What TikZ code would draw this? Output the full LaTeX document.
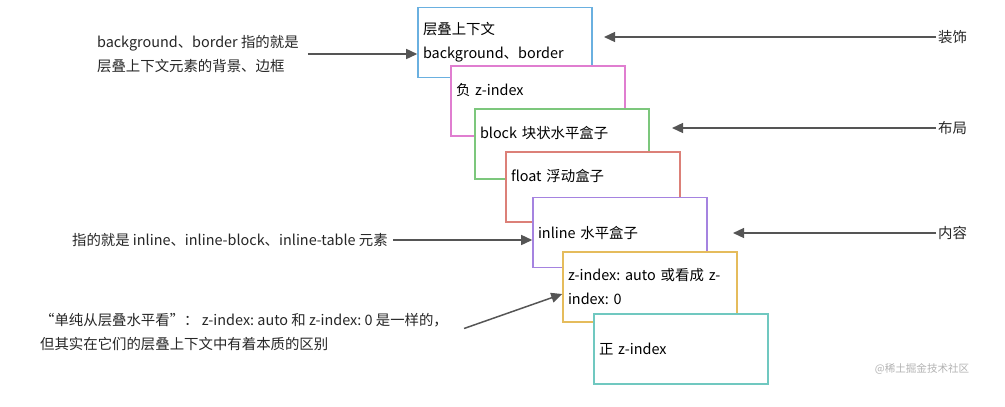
\documentclass[tikz,border=0pt]{standalone}
\usepackage{fontspec}
\setmainfont{Noto Sans CJK SC}
\frenchspacing
\usetikzlibrary{positioning, arrows.meta}
\definecolor{ctxblue}{RGB}{106,176,224}
\definecolor{ctxpink}{RGB}{224,126,208}
\definecolor{ctxgreen}{RGB}{124,199,124}
\definecolor{ctxred}{RGB}{220,128,120}
\definecolor{ctxpurple}{RGB}{165,131,224}
\definecolor{ctxyellow}{RGB}{229,188,92}
\definecolor{ctxteal}{RGB}{112,200,192}
\definecolor{arrowgray}{RGB}{85,85,85}
\tikzset{
  layer/.style   = {draw, fill=white, line width=0.85pt, minimum width=3.48cm, minimum height=1.4cm, text width=3.28cm, inner xsep=0.1cm, align=left, font=\fontsize{8.2}{13.7}\selectfont},
  note/.style    = {align=left, inner sep=1pt, text=black!85, font=\fontsize{8.2}{13.7}\selectfont},
  pointer/.style = {-{Triangle[length=6.3pt, width=5.7pt]}, line width=0.85pt, draw=arrowgray}
}

\begin{document}
\begin{tikzpicture}[x=0.2mm, y=-0.2mm]
  \useasboundingbox (0,0) rectangle (1005,406);
  % stacking levels, bottom to top
  \node[layer, draw=ctxblue]   (bg)     at (505,42.5) {层叠上下文\\background、border};
  \node[layer, draw=ctxpink]   (neg)    at (538,101)  {负 z-index\\~};
  \node[layer, draw=ctxgreen]  (blk)    at (562,144)  {block 块状水平盒子\\~};
  \node[layer, draw=ctxred]    (flt)    at (593,187)  {float 浮动盒子\\~};
  \node[layer, draw=ctxpurple] (inl)    at (620,232.5){inline 水平盒子};
  \node[layer, draw=ctxyellow] (auto)   at (650,287)  {z-index: auto 或看成 z-\\index: 0};
  \node[layer, draw=ctxteal]   (pos)    at (681,349)  {正 z-index};

  % notes on the left
  \node[note, anchor=west] (bgnote)  at (95,54)  {background、border 指的就是\\层叠上下文元素的背景、边框};
  \node[note, anchor=west] (inlnote) at (70,240) {指的就是 inline、inline-block、inline-table 元素};
  \node[note, anchor=west] (zinote)  at (38,332) {“单纯从层叠水平看”： z-index: auto 和 z-index: 0 是一样的，\\但其实在它们的层叠上下文中有着本质的区别};

  \draw[pointer] ([xshift=4pt]bgnote.east) -- (bgnote.east -| bg.west);
  \draw[pointer] ([xshift=2pt]inlnote.east) -- (inlnote.east -| inl.west);
  \draw[pointer] ([xshift=8pt,yshift=2pt]zinote.east) -- ([yshift=-4pt]auto.west);

  % groups on the right
  \node[note, anchor=west] (deco)    at (936,37)  {装饰};
  \node[note, anchor=west] (layout)  at (936,128) {布局};
  \node[note, anchor=west] (content) at (936,233) {内容};
  \coordinate (decoend)    at (604,37);
  \coordinate (layoutend)  at (672,128);
  \coordinate (contentend) at (733,233);
  \draw[pointer] (deco.west) -- (decoend);
  \draw[pointer] (layout.west) -- (layoutend);
  \draw[pointer] (content.west) -- (contentend);

  \node[text=black!30, font=\fontsize{6}{7}\selectfont] (mark) at (922,369) {@稀土掘金技术社区};
\end{tikzpicture}
\end{document}
